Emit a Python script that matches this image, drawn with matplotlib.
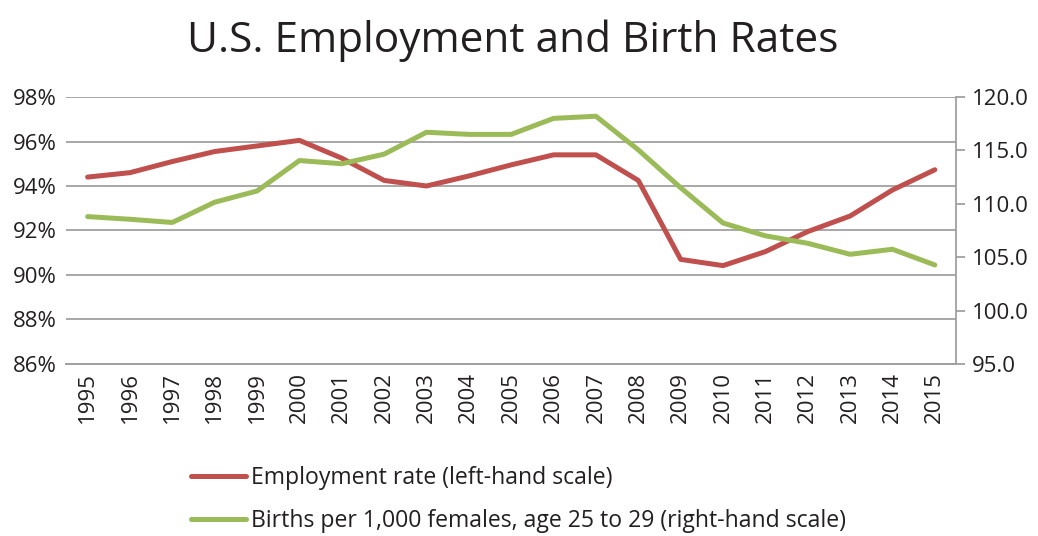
import matplotlib.pyplot as plt
import numpy as np

plt.rcParams["font.family"] = ["Open Sans", "DejaVu Sans"]

years = [str(y) for y in range(1995, 2016)]
employment = [94.4, 94.6, 95.1, 95.55, 95.8, 96.05, 95.25, 94.25, 94.0, 94.45,
              94.95, 95.4, 95.4, 94.25, 90.7, 90.42, 91.05, 91.95, 92.65, 93.82, 94.73]
births = [108.8, 108.55, 108.25, 110.15, 111.2, 114.05, 113.75, 114.65, 116.7, 116.5,
          116.5, 118.0, 118.2, 115.05, 111.5, 108.2, 107.0, 106.3, 105.27, 105.74, 104.27]

RED = '#C0504D'
GREEN = '#9BBB59'
GRID = '#A0A0A0'
TXT = '#231F20'

fig = plt.figure(figsize=(10.38, 5.36), dpi=100)
ax = fig.add_axes([0.064, 0.321, 0.857, 0.498])
ax2 = ax.twinx()

x = np.arange(len(years))
l1, = ax.plot(x, employment, color=RED, lw=3.6, solid_capstyle='round', label='Employment rate (left-hand scale)')
l2, = ax2.plot(x, births, color=GREEN, lw=3.6, solid_capstyle='round',
               label='Births per 1,000 females, age 25 to 29 (right-hand scale)')

ax.set_xlim(-0.5, len(years) - 0.5)
ax.set_ylim(86, 98)
ax.set_yticks(np.arange(86, 99, 2))
ax.set_yticklabels([f'{v}%' for v in range(86, 99, 2)])
ax.set_xticks(x)
ax.set_xticklabels(years, rotation=90)
ax.grid(axis='y', color=GRID, lw=1.3)
ax.set_axisbelow(True)
ax.tick_params(axis='y', length=0, pad=7, labelsize=16, labelcolor=TXT)
ax.tick_params(axis='x', length=0, pad=6, labelsize=16, labelcolor=TXT)

ax2.set_ylim(95, 120)
ax2.set_yticks(np.arange(95, 121, 5))
ax2.set_yticklabels([f'{v:.1f}' for v in range(95, 121, 5)])
ax2.tick_params(axis='y', length=6.5, width=1.3, color=GRID, pad=5, labelsize=16, labelcolor=TXT)

for a in (ax, ax2):
    a.spines['top'].set_visible(False)
    a.spines['left'].set_visible(False)
    a.spines['right'].set_visible(False)
    a.spines['bottom'].set_color(GRID)
    a.spines['bottom'].set_linewidth(1.3)
ax2.spines['right'].set_visible(True)
ax2.spines['right'].set_color(GRID)
ax2.spines['right'].set_linewidth(1.3)

fig.text(0.494, 0.903, 'U.S. Employment and Birth Rates', ha='center', va='baseline',
         fontsize=30.5, color=TXT)

fig.legend(handles=[l1, l2], loc='upper left', bbox_to_anchor=(0.175, 0.147), frameon=False,
           fontsize=16.6, handlelength=2.4, handletextpad=0.2, labelspacing=0.82,
           labelcolor=TXT, borderaxespad=0)

fig.savefig('out.png', dpi=100)
